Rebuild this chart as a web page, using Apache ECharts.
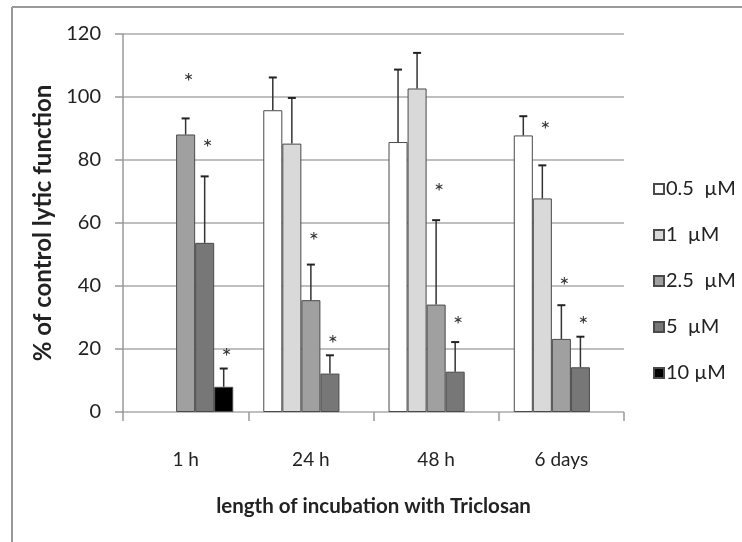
<!DOCTYPE html>
<html>
<head>
<meta charset="utf-8">
<script src="https://cdn.jsdelivr.net/npm/echarts@6/dist/echarts.min.js"></script>
<style>
  html, body { margin: 0; padding: 0; background: #fff; }
  #chart { width: 742px; height: 542px; }
</style>
</head>
<body>
<div id="chart"></div>
<script>
// categories + legend names
const categories = ['1 h', '24 h', '48 h', '6 days']
const concNames = ['0.5  µM', '1  µM', '2.5  µM', '5  µM', '10 µM']

// bar means (% of control)
const mean05 = [null, 95.8, 85.7, 87.8]
const mean1 = [null, 85.2, 102.7, 67.8]
const mean25 = [88.1, 35.5, 34.1, 23.2]
const mean5 = [53.7, 12.2, 12.8, 14.2]
const mean10 = [8.0, null, null, null]

// top of the error bars
const errTop05 = [null, 106.2, 108.7, 93.9]
const errTop1 = [null, 99.7, 114.0, 78.3]
const errTop25 = [93.2, 46.8, 60.9, 33.9]
const errTop5 = [74.8, 18.0, 22.2, 23.9]
const errTop10 = [13.8, null, null, null]

// where the significance stars sit (value units)
const star05 = [null, null, null, null]
const star1 = [null, null, null, 91.3]
const star25 = [106.5, 56.1, 71.7, 41.7]
const star5 = [85.6, 23.3, 29.4, 29.4]
const star10 = [19.2, null, null, null]

const yTicks = { min: 0, max: 120, interval: 20 }

const means = [mean05, mean1, mean25, mean5, mean10]
const errTops = [errTop05, errTop1, errTop25, errTop5, errTop10]
const stars = [star05, star1, star25, star5, star10]
const colors = ['#ffffff', '#d9d9d9', '#a0a0a0', '#777777', '#000000']

const FONT = 'Lato, "Open Sans", sans-serif'
const catGap = 24 // barCategoryGap in %

let chart = echarts.init(document.getElementById('chart'), null, { renderer: 'canvas' })

let series = []
means.forEach((m, i) => {
  series.push({
    name: concNames[i],
    type: 'bar',
    data: m,
    barGap: '0%',
    barCategoryGap: catGap + '%',
    itemStyle: { color: colors[i], borderColor: '#4a4a4a', borderWidth: 1 },
    emphasis: { disabled: true }
  })
})

// error bars + stars, one custom series per concentration
means.forEach((m, i) => {
  let data = categories.map((c, k) => [k, m[k], errTops[i][k], stars[i][k]])
  series.push({
    type: 'custom',
    silent: true,
    z: 5,
    data: data,
    renderItem: (params, api) => {
      const k = api.value(0)
      const v = api.value(1)
      const e = api.value(2)
      const s = api.value(3)
      const band = api.size([1, 0])[0]
      const bw = band * (1 - catGap / 100) / means.length
      const cx = api.coord([k, 0])[0] + (i - (means.length - 1) / 2) * bw
      let children = []
      if (v != null && !isNaN(v) && e != null && !isNaN(e)) {
        const y0 = api.coord([k, v])[1]
        const y1 = api.coord([k, e])[1]
        children.push({
          type: 'line',
          shape: { x1: cx, y1: y0, x2: cx, y2: y1 },
          style: { stroke: '#333', lineWidth: 1.5 }
        })
        children.push({
          type: 'line',
          shape: { x1: cx - 4, y1: y1, x2: cx + 4, y2: y1 },
          style: { stroke: '#222', lineWidth: 2 }
        })
      }
      if (s != null && !isNaN(s)) {
        const ys = api.coord([k, s])[1]
        children.push({
          type: 'text',
          style: {
            text: '*',
            x: cx + 3,
            y: ys + 6,
            align: 'center',
            verticalAlign: 'middle',
            font: '24px ' + FONT,
            fill: '#333'
          }
        })
      }
      return { type: 'group', children: children }
    }
  })
})

let option = {
  animation: false,
  backgroundColor: '#fff',
  textStyle: { fontFamily: FONT },
  grid: { left: 123, right: 118, top: 34, bottom: 130 },
  legend: {
    orient: 'vertical',
    left: 648,
    top: 174,
    itemWidth: 10,
    itemHeight: 10,
    itemGap: 26,
    icon: 'rect',
    data: concNames,
    textStyle: { fontSize: 20, color: '#222', fontFamily: FONT, padding: [0, 0, 0, -3], lineHeight: 20 },
    selectedMode: false
  },
  xAxis: {
    type: 'category',
    data: categories,
    axisLine: { show: false },
    axisTick: { show: true, length: 9, lineStyle: { color: '#999', width: 1.5 } },
    axisLabel: { fontSize: 19, color: '#222', margin: 38 },
    name: 'length of incubation with Triclosan',
    nameLocation: 'middle',
    nameGap: 84,
    nameTextStyle: { fontSize: 20.5, fontWeight: 'bold', color: '#222' }
  },
  yAxis: {
    type: 'value',
    min: yTicks.min,
    max: yTicks.max,
    interval: yTicks.interval,
    axisLine: { show: true, lineStyle: { color: '#999', width: 1.5 } },
    axisTick: { show: true, length: 8, lineStyle: { color: '#999', width: 1.5 } },
    axisLabel: { fontSize: 20, color: '#222', margin: 22 },
    splitLine: { lineStyle: { color: '#aaa', width: 1.5 } },
    name: '% of control lytic function',
    nameLocation: 'middle',
    nameGap: 67,
    nameTextStyle: { fontSize: 24, fontWeight: 'bold', color: '#222' }
  },
  graphic: [
    { type: 'line', shape: { x1: 12, y1: 7, x2: 742, y2: 7 }, style: { stroke: '#999', lineWidth: 2 } },
    { type: 'line', shape: { x1: 12, y1: 7, x2: 12, y2: 542 }, style: { stroke: '#999', lineWidth: 2 } }
  ],
  series: series
}
chart.setOption(option)
</script>
</body>
</html>
